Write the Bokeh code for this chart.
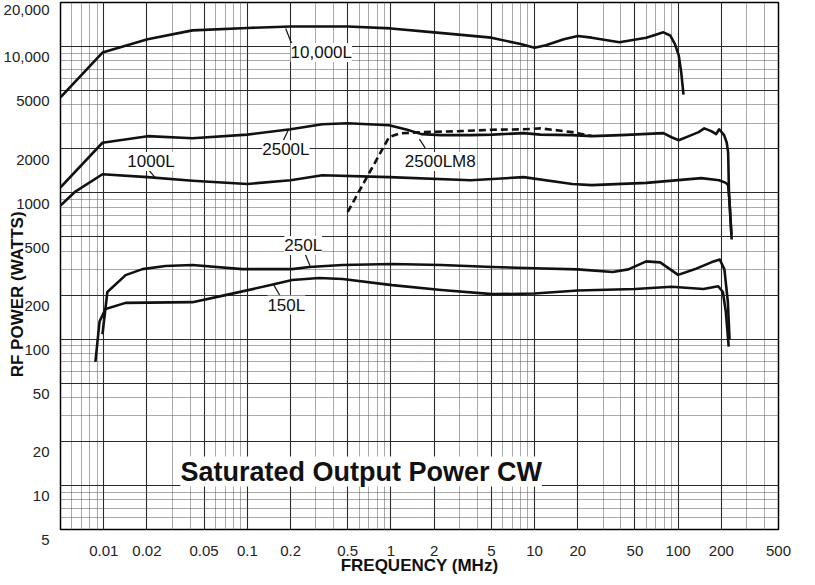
from bokeh.plotting import figure
from bokeh.models import FixedTicker, CustomJSTickFormatter, Label, Range1d
from bokeh.embed import file_html
from bokeh.resources import INLINE

# ---- data (frequency in MHz, power in W) ----
f10k = [0.005, 0.0098, 0.0202, 0.0415, 0.1, 0.2, 0.5, 1.0, 2.0, 5.0, 8.0, 10.0, 12.0, 16.0, 20.0, 25.0, 39.0, 60.0, 79.0, 88.0, 95.0, 101.0, 105.0, 109.0]
w10k = [4500, 9100, 11200, 12900, 13400, 13700, 13700, 13300, 12500, 11500, 10400, 9800, 10200, 11200, 11800, 11500, 10700, 11500, 12500, 11900, 10400, 8700, 6700, 4700]

f2500 = [0.005, 0.0098, 0.0202, 0.0415, 0.1, 0.2, 0.333, 0.5, 0.97, 1.3, 1.63, 2.24, 3.6, 5.1, 8.4, 11.0, 18.3, 25.0, 40.0, 79.0, 90.0, 101.0, 120.0, 139.0, 152.0, 170.0, 184.0, 193.0, 209.0, 218.0, 223.0, 226.0, 235.0]
w2500 = [1090, 2200, 2440, 2360, 2500, 2720, 2940, 2990, 2900, 2700, 2520, 2480, 2480, 2500, 2560, 2500, 2480, 2440, 2480, 2560, 2400, 2290, 2450, 2600, 2760, 2640, 2520, 2720, 2480, 2200, 1890, 1010, 520]

fm8 = [0.5, 0.97, 1.15, 1.63, 3.0, 5.1, 8.4, 11.0, 18.3, 25.0]
wm8 = [740, 2400, 2550, 2600, 2640, 2700, 2720, 2760, 2600, 2450]

f1000 = [0.005, 0.00626, 0.0098, 0.0202, 0.0415, 0.1, 0.2, 0.333, 0.97, 3.6, 8.4, 18.3, 25.0, 60.0, 145.0, 193.0, 215.0, 223.0, 228.0, 232.0, 236.0]
w1000 = [820, 1010, 1340, 1280, 1210, 1150, 1220, 1320, 1280, 1220, 1280, 1150, 1130, 1170, 1260, 1220, 1170, 1130, 865, 640, 480]

f250 = [0.0098, 0.0106, 0.0142, 0.0186, 0.0269, 0.0415, 0.0922, 0.205, 0.27, 0.46, 1.02, 2.24, 5.1, 10.0, 20.0, 35.0, 45.0, 60.0, 75.0, 100.0, 130.0, 170.0, 195.0, 210.0, 222.0, 228.0]
w250 = [108, 210, 274, 301, 316, 321, 301, 301, 311, 321, 326, 321, 311, 305, 300, 288, 300, 340, 335, 275, 300, 335, 350, 300, 180, 100]

f150 = [0.00875, 0.00935, 0.0103, 0.0142, 0.0415, 0.0704, 0.156, 0.205, 0.316, 0.46, 1.02, 2.24, 5.1, 10.0, 20.0, 50.0, 90.0, 150.0, 190.0, 205.0, 215.0, 225.0]
w150 = [70, 132, 161, 177, 179, 200, 238, 254, 262, 258, 234, 217, 203, 205, 215, 220, 228, 220, 230, 210, 153, 89]

# curve labels: text, x, y ; leader lines x0,y0,x1,y1
label_text = ["10,000L", "2500L", "1000L", "2500LM8", "250L", "150L"]
label_x = [0.2, 0.127, 0.0146, 1.25, 0.181, 0.138]
label_y = [9110, 1980, 1637, 1637, 436, 171]
lead_x0 = [0.185, 0.194, 0.0205, 1.58, 0.248, 0.153]
lead_y0 = [13300, 2720, 1440, 2330, 399, 234]
lead_x1 = [0.205, 0.176, 0.0228, 1.73, 0.273, 0.169]
lead_y1 = [10300, 2230, 1270, 2030, 318, 198]

x_ticks = [0.01, 0.02, 0.05, 0.1, 0.2, 0.5, 1, 2, 5, 10, 20, 50, 100, 200, 500]
y_ticks = [5, 10, 20, 50, 100, 200, 500, 1000, 2000, 5000, 10000, 20000]

title_text = "Saturated Output Power CW"
x_title = "FREQUENCY (MHz)"
y_title = "RF POWER (WATTS)"

# minor grid positions (log paper)
def minors(lo_exp, hi_exp, lo, hi):
    out = []
    for e in range(lo_exp, hi_exp + 1):
        for k in (3, 4, 6, 7, 8, 9):
            v = round(k * 10 ** e, 6)
            if lo < v < hi:
                out.append(v)
    return out

x_minor = minors(-3, 2, 0.005, 500)
y_minor = minors(0, 4, 5, 20000)

FONT = "Liberation Sans"

p = figure(width=800, height=577, x_axis_type="log", y_axis_type="log",
           output_backend="svg", toolbar_location=None,
           min_border_left=60, min_border_right=22, min_border_top=2, min_border_bottom=47)
p.x_range = Range1d(0.005, 500)
p.y_range = Range1d(5, 20000)

p.xaxis.ticker = FixedTicker(ticks=x_ticks, minor_ticks=x_minor)
p.yaxis.ticker = FixedTicker(ticks=y_ticks, minor_ticks=y_minor)
p.xaxis.formatter = CustomJSTickFormatter(code="return String(tick);")
# leading newline pushes each value label just below its grid line, as on the original sheet
# (the top label is kept single-line; Bokeh keeps it inside the canvas on its own)
p.yaxis.formatter = CustomJSTickFormatter(code="""
let s = String(tick);
if (tick >= 10000) { s = s.slice(0, s.length-3) + ',' + s.slice(-3); }
return (tick >= 20000) ? s : '\\n' + s;
""")

for ax in (p.xaxis, p.yaxis):
    ax.axis_line_color = None
    ax.major_tick_line_color = None
    ax.minor_tick_line_color = None
    ax.major_label_text_font = FONT
    ax.major_label_text_font_size = "15px"
    ax.major_label_text_color = "#222222"
    ax.axis_label_text_font = FONT
    ax.axis_label_text_font_size = "17px"
    ax.axis_label_text_font_style = "bold"
    ax.axis_label_text_color = "#111111"

p.xaxis.axis_label = x_title
p.xaxis.major_label_standoff = 10
p.xaxis.axis_label_standoff = -3
# trailing no-break spaces move the vertical title a little below the frame centre
p.yaxis.axis_label = y_title + "\u00a0" * 12
p.yaxis.major_label_standoff = 5
p.yaxis.axis_label_standoff = -26

for g in (p.xgrid, p.ygrid):
    g.grid_line_color = "#2a2a2a"
    g.grid_line_width = 1.1
    g.minor_grid_line_color = "#555555"
    g.minor_grid_line_dash = "1 1"
    g.minor_grid_line_width = 1

p.outline_line_color = "black"
p.outline_line_width = 1.5

lw = 2.6
for fx, wy in ((f10k, w10k), (f2500, w2500), (f1000, w1000), (f250, w250), (f150, w150)):
    p.line(fx, wy, line_width=lw, color="#111111", line_join="round")
p.line(fm8, wm8, line_width=lw, color="#111111", line_dash="7 4")

p.segment(x0=lead_x0, y0=lead_y0, x1=lead_x1, y1=lead_y1, line_width=1.2, color="#111111")

for t, x, y in zip(label_text, label_x, label_y):
    p.add_layout(Label(x=x, y=y, text=t, text_font=FONT, text_font_size="17px",
                       text_align="left", text_baseline="middle", text_color="#111111",
                       background_fill_color="white"))

p.add_layout(Label(x=0.0342, y=12.44, text=title_text, text_font=FONT, text_font_size="27px",
                   text_font_style="bold", text_align="left", text_baseline="middle",
                   text_color="#111111", background_fill_color="white"))

open("out.html", "w").write(file_html(p, INLINE))
